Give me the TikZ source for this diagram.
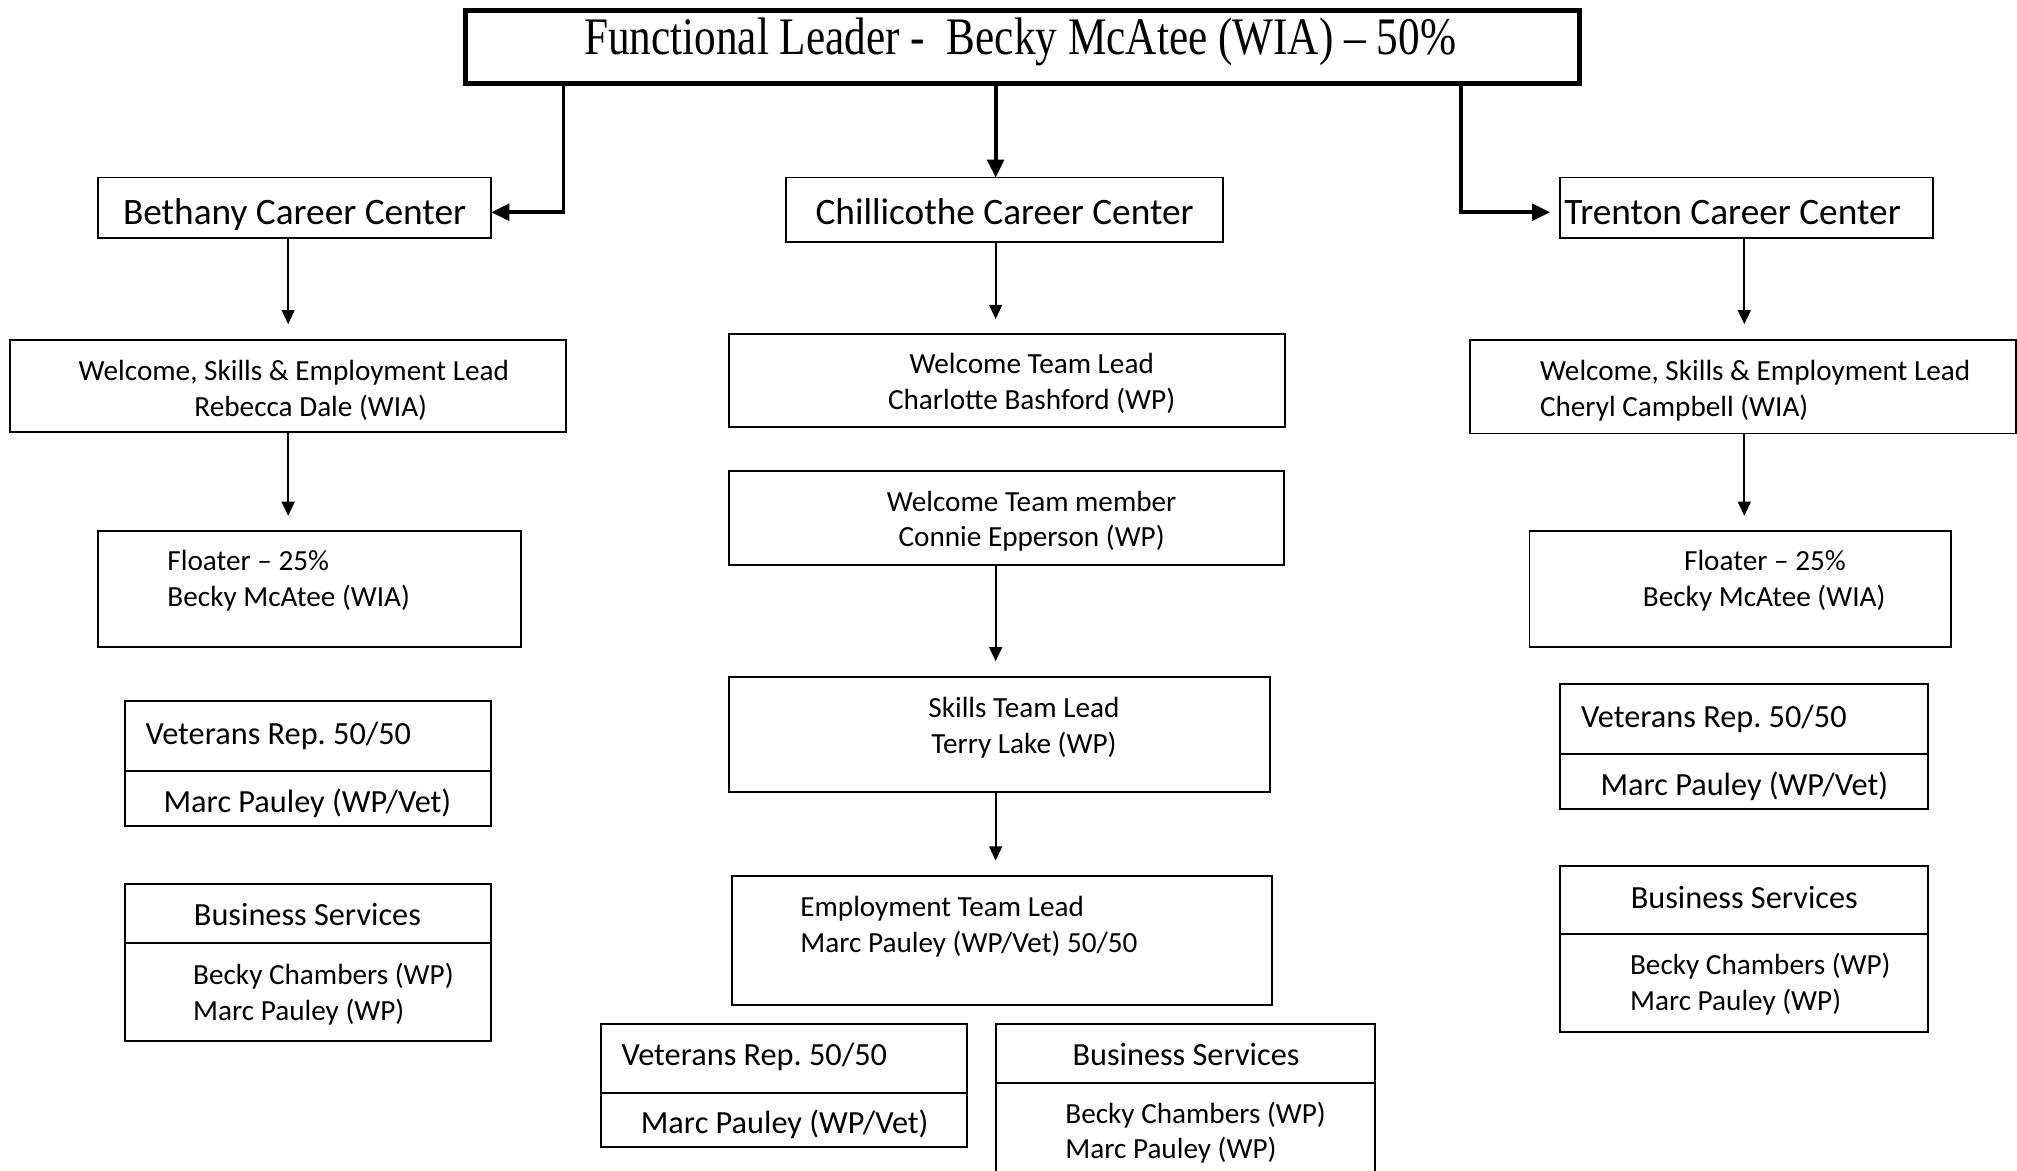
\documentclass[tikz,border=0pt]{standalone}
\usepackage{fontspec}
\setmainfont{Carlito}
\newfontfamily\titlefont[FakeStretch=0.82]{Liberation Serif}
\usetikzlibrary{arrows.meta}
\frenchspacing
\begin{document}
\begin{tikzpicture}[x=1pt,y=-1pt,
  box/.style={draw, line width=1.5pt, inner sep=0pt, outer sep=0pt},
  tbox/.style={draw, line width=4pt, inner sep=0pt, outer sep=0pt},
  arr/.style={line width=1.5pt, -{Triangle[length=11pt,width=10pt]}, shorten >=12pt},
  bigarr/.style={line width=3pt, -{Triangle[length=14pt,width=13pt]}},
  divl/.style={line width=1.5pt},
  fS/.style={font=\frenchspacing\fontsize{22.7}{28}\selectfont, inner sep=0pt, text height=0.69em, text depth=0.2em, yshift=-6pt},
  fM/.style={font=\frenchspacing\fontsize{25.1}{30}\selectfont, inner sep=0pt, text height=0.69em, text depth=0.2em, yshift=-6pt},
  fL/.style={font=\fontsize{29}{34}\selectfont, inner sep=0pt, text height=0.69em, text depth=0.2em, yshift=-7pt},
  fT/.style={font=\titlefont\fontsize{41}{48}\selectfont, inner sep=0pt, text height=0.69em, text depth=0.2em, yshift=-11pt}
]
\useasboundingbox[fill=white] (0,0) rectangle (1568,910);

% boxes
\node[tbox, minimum width=866pt, minimum height=57pt] (title) at (795,36.5) {};
\node[box, minimum width=306pt, minimum height=47pt] (beth) at (229,161.5) {};
\node[box, minimum width=340pt, minimum height=50pt] (chil) at (781,163) {};
\node[box, minimum width=290pt, minimum height=47pt] (tren) at (1358,161.5) {};
\node[box, minimum width=432pt, minimum height=72pt] (bwse) at (224,300) {};
\node[box, minimum width=329pt, minimum height=90pt] (bflt) at (240.5,458) {};
\node[box, minimum width=285pt, minimum height=97pt] (bvet) at (239.5,593.5) {};
\node[box, minimum width=285pt, minimum height=122pt] (bbus) at (239.5,748) {};
\node[box, minimum width=432pt, minimum height=72pt] (cwtl) at (783,296) {};
\node[box, minimum width=431pt, minimum height=73pt] (cwtm) at (782.5,402.5) {};
\node[box, minimum width=420pt, minimum height=90pt] (cstl) at (777,571) {};
\node[box, minimum width=420pt, minimum height=100pt] (cetl) at (779,731) {};
\node[box, minimum width=285pt, minimum height=96pt] (cvet) at (609.5,844) {};
\node[box, minimum width=295pt, minimum height=119pt] (cbus) at (921.5,855.5) {};
\node[box, minimum width=424pt, minimum height=73pt] (twse) at (1355,300.5) {};
\node[box, minimum width=328pt, minimum height=90pt] (tflt) at (1353,458) {};
\node[box, minimum width=286pt, minimum height=97pt] (tvet) at (1356,580.5) {};
\node[box, minimum width=286pt, minimum height=129pt] (tbus) at (1356,737.5) {};

% dividers
\coordinate (dbv) at (0,599);
\coordinate (dbb) at (0,733);
\coordinate (dcv) at (0,850);
\coordinate (dcb) at (0,842);
\coordinate (dtv) at (0,586);
\coordinate (dtb) at (0,726);
\draw[divl] (bvet.west |- dbv) -- (bvet.east |- dbv);
\draw[divl] (bbus.west |- dbb) -- (bbus.east |- dbb);
\draw[divl] (cvet.west |- dcv) -- (cvet.east |- dcv);
\draw[divl] (cbus.west |- dcb) -- (cbus.east |- dcb);
\draw[divl] (tvet.west |- dtv) -- (tvet.east |- dtv);
\draw[divl] (tbus.west |- dtb) -- (tbus.east |- dtb);

% thick connectors
\coordinate (j1) at (438,165);
\coordinate (j2) at (774,100);
\coordinate (j3) at (1136,165);
\draw[bigarr] (title.south -| j1) -- (j1) -- (j1 -| beth.east);
\draw[bigarr] (title.south -| j2) -- (chil.north -| j2);
\draw[bigarr] (title.south -| j3) -- (j3) -- ([xshift=-8pt]j3 -| tren.west);

% thin connectors
\coordinate (a1) at (224,0);
\coordinate (a2) at (774,0);
\coordinate (a3) at (1356,0);
\draw[arr] (beth.south -| a1) -- (bwse.north -| a1);
\draw[arr] (bwse.south -| a1) -- (bflt.north -| a1);
\draw[arr] (chil.south -| a2) -- (cwtl.north -| a2);
\draw[arr] (cwtm.south -| a2) -- (cstl.north -| a2);
\draw[arr] (cstl.south -| a2) -- (cetl.north -| a2);
\draw[arr] (tren.south -| a3) -- (twse.north -| a3);
\draw[arr] (twse.south -| a3) -- (tflt.north -| a3);

% texts
\node[fT] (ttitle) at (793,29) {Functional Leader -\ \ Becky McAtee (WIA) – 50\%};
\node[fL] (tbeth) at (229,165) {Bethany Career Center};
\node[fL] (tchil) at (781,165) {Chillicothe Career Center};
\node[fL, anchor=west] (ttren) at (1216,165) {Trenton Career Center};

\node[fS, anchor=west] (bwse1) at (61,287) {Welcome, Skills \& Employment Lead};
\node[fS, anchor=west] (bwse2) at (151,315) {Rebecca Dale (WIA)};
\node[fS, anchor=west] (bflt1) at (130,435) {Floater – 25\%};
\node[fS, anchor=west] (bflt2) at (130,463) {Becky McAtee (WIA)};
\node[fM, anchor=west] (bvet1) at (113,570) {Veterans Rep. 50/50};
\node[fM, anchor=west] (bvet2) at (127,623) {Marc Pauley (WP/Vet)};
\node[fM] (bbus1) at (239,711) {Business Services};
\node[fS, anchor=west] (bbus2) at (150,757) {Becky Chambers (WP)};
\node[fS, anchor=west] (bbus3) at (150,785) {Marc Pauley (WP)};

\node[fS] (cwtl1) at (802,282) {Welcome Team Lead};
\node[fS] (cwtl2) at (802,310) {Charlotte Bashford (WP)};
\node[fS] (cwtm1) at (802,389) {Welcome Team member};
\node[fS] (cwtm2) at (802,416) {Connie Epperson (WP)};
\node[fS] (cstl1) at (796,549) {Skills Team Lead};
\node[fS] (cstl2) at (796,577) {Terry Lake (WP)};
\node[fS, anchor=west] (cetl1) at (622,704) {Employment Team Lead};
\node[fS, anchor=west] (cetl2) at (622,732) {Marc Pauley (WP/Vet) 50/50};
\node[fM, anchor=west] (cvet1) at (483,820) {Veterans Rep. 50/50};
\node[fM, anchor=west] (cvet2) at (498,873) {Marc Pauley (WP/Vet)};
\node[fM] (cbus1) at (922,820) {Business Services};
\node[fS, anchor=west] (cbus2) at (828,865) {Becky Chambers (WP)};
\node[fS, anchor=west] (cbus3) at (828,892) {Marc Pauley (WP)};

\node[fS, anchor=west] (twse1) at (1197,287) {Welcome, Skills \& Employment Lead};
\node[fS, anchor=west] (twse2) at (1197,315) {Cheryl Campbell (WIA)};
\node[fS, anchor=west] (tflt1) at (1309,435) {Floater – 25\%};
\node[fS, anchor=west] (tflt2) at (1277,463) {Becky McAtee (WIA)};
\node[fM, anchor=west] (tvet1) at (1229,557) {Veterans Rep. 50/50};
\node[fM, anchor=west] (tvet2) at (1244,610) {Marc Pauley (WP/Vet)};
\node[fM] (tbus1) at (1356,698) {Business Services};
\node[fS, anchor=west] (tbus2) at (1267,749) {Becky Chambers (WP)};
\node[fS, anchor=west] (tbus3) at (1267,777) {Marc Pauley (WP)};
\end{tikzpicture}
\end{document}
